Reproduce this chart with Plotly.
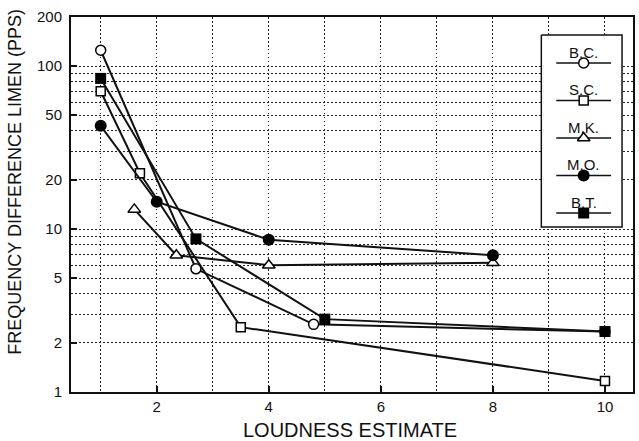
import plotly.graph_objects as go

# Frequency difference limen vs. loudness estimate, one series per listener
subjects = ["B.C.", "S.C.", "M.K.", "M.O.", "B.T."]

bc_x = [1.0, 2.7, 4.8, 10.0]
bc_y = [125, 5.7, 2.6, 2.35]

sc_x = [1.0, 1.7, 3.5, 10.0]
sc_y = [70, 22, 2.5, 1.17]

mk_x = [1.6, 2.35, 4.0, 8.0]
mk_y = [13.2, 6.9, 6.0, 6.2]

mo_x = [1.0, 2.0, 4.0, 8.0]
mo_y = [43, 14.7, 8.6, 6.9]

bt_x = [1.0, 2.7, 5.0, 10.0]
bt_y = [84, 8.7, 2.8, 2.35]

x_ticks = [2, 4, 6, 8, 10]
x_minor = [1, 3, 5, 7, 9]
y_ticks = [1, 2, 5, 10, 20, 50, 100, 200]
y_minor = [3, 4, 6, 7, 8, 9, 30, 40, 60, 70, 80, 90]

series = [
    (bc_x, bc_y, dict(symbol="circle", size=10, color="white", line=dict(color="black", width=1.5))),
    (sc_x, sc_y, dict(symbol="square", size=9, color="white", line=dict(color="black", width=1.5))),
    (mk_x, mk_y, dict(symbol="triangle-up", size=11, color="white", line=dict(color="black", width=1.5))),
    (mo_x, mo_y, dict(symbol="circle", size=12, color="black", line=dict(color="black", width=0))),
    (bt_x, bt_y, dict(symbol="square", size=11, color="black", line=dict(color="black", width=0))),
]

FONT = "Liberation Sans, Arial, sans-serif"
INK = "#111111"

fig = go.Figure()
for name, (xs, ys, mk) in zip(subjects, series):
    fig.add_trace(go.Scatter(
        x=xs, y=ys, mode="lines+markers", name=name,
        line=dict(color=INK, width=2), marker=mk, showlegend=False,
        cliponaxis=False,
    ))

# Hand-built key: label above a short line with the marker at its centre.
# It lives on an overlay axis pair whose units are pixels of the plot frame.
box_x0, box_x1, box_y0, box_y1 = 543, 624, 35, 227
fig.add_trace(go.Scatter(
    x=[box_x0, box_x1, box_x1, box_x0, box_x0], y=[box_y0, box_y0, box_y1, box_y1, box_y0],
    mode="lines", fill="toself", fillcolor="white", line=dict(color=INK, width=1.5),
    xaxis="x2", yaxis="y2", showlegend=False, hoverinfo="skip"))

key_x0, key_x1, key_mid = 558, 613, 585.5
key_label_top, key_step, key_gap = 52, 37.5, 11
annotations = []
for i, (name, (_, _, mk)) in enumerate(zip(subjects, series)):
    ty = key_label_top + i * key_step
    ly = ty + key_gap
    annotations.append(dict(x=key_mid, y=ty, xref="x2", yref="y2", text=name, showarrow=False,
                            font=dict(family=FONT, size=15, color=INK)))
    fig.add_trace(go.Scatter(x=[key_x0, key_x1], y=[ly, ly], mode="lines",
                             line=dict(color=INK, width=1.5), xaxis="x2", yaxis="y2",
                             showlegend=False, hoverinfo="skip"))
    fig.add_trace(go.Scatter(x=[key_mid], y=[ly], mode="markers", marker=mk,
                             xaxis="x2", yaxis="y2", showlegend=False, hoverinfo="skip"))

annotations.append(dict(x=0.496, y=-0.102, xref="paper", yref="paper", text="LOUDNESS ESTIMATE",
                        showarrow=False, xanchor="center", yanchor="middle",
                        font=dict(family=FONT, size=20, color=INK)))
annotations.append(dict(x=-0.1, y=0.56, xref="paper", yref="paper",
                        text="FREQUENCY DIFFERENCE LIMEN (PPS)", textangle=-90,
                        showarrow=False, xanchor="center", yanchor="middle",
                        font=dict(family=FONT, size=18, color=INK)))

grid = dict(showgrid=True, gridcolor="#222222", gridwidth=1, griddash="1.5px,2.5px")

fig.update_layout(
    width=639, height=441,
    margin=dict(l=71, r=4, t=17, b=49),
    paper_bgcolor="white", plot_bgcolor="white",
    font=dict(family=FONT, size=14, color=INK),
    annotations=annotations,
    xaxis=dict(range=[0.47, 10.5], tickmode="array", tickvals=x_ticks,
               ticks="inside", ticklen=6, tickwidth=1.5, tickcolor=INK,
               showline=True, linecolor=INK, linewidth=2, mirror=True, zeroline=False,
               tickfont=dict(family=FONT, size=15, color=INK),
               minor=dict(tickvals=x_minor, ticks="", **grid), **grid),
    yaxis=dict(type="log", range=[0, 2.30103], tickmode="array", tickvals=y_ticks,
               ticktext=[str(v) for v in y_ticks],
               ticks="inside", ticklen=6, tickwidth=1.5, tickcolor=INK,
               showline=True, linecolor=INK, linewidth=2, mirror=True, zeroline=False,
               tickfont=dict(family=FONT, size=15, color=INK), ticklabelstandoff=4,
               minor=dict(tickvals=y_minor, ticks="", **grid), **grid),
    xaxis2=dict(overlaying="x", range=[71, 635], visible=False, fixedrange=True),
    yaxis2=dict(overlaying="y", range=[392, 17], visible=False, fixedrange=True),
)

fig.write_html("out.html")
